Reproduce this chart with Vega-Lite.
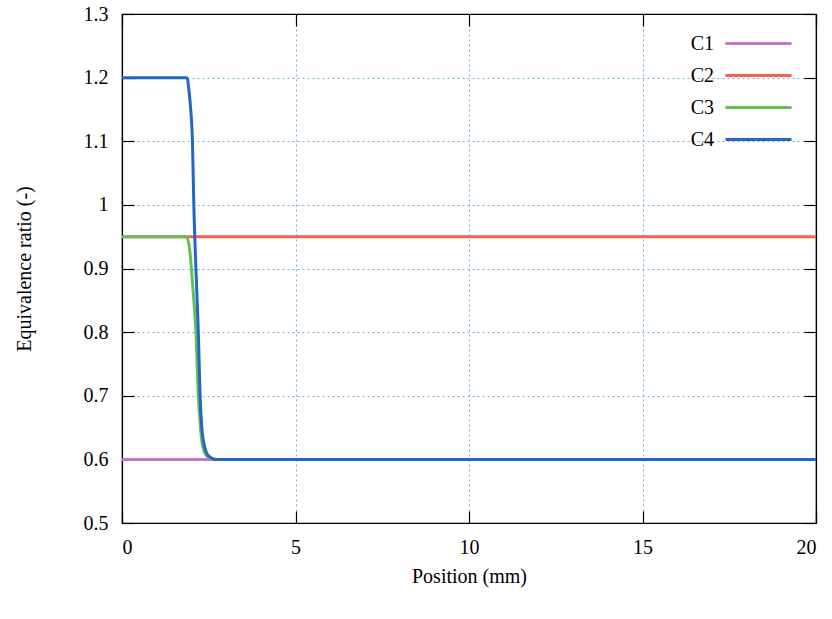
{
  "$schema": "https://vega.github.io/schema/vega-lite/v6.json",
  "width": 694,
  "height": 509,
  "autosize": {"type": "none"},
  "padding": {"left": 122, "top": 14, "right": 16, "bottom": 96},
  "background": "white",
  "config": {
    "font": "Liberation Serif",
    "view": {"stroke": "black", "strokeWidth": 1.2},
    "axis": {"labelFont": "Liberation Serif", "titleFont": "Liberation Serif", "labelFontSize": 20, "titleFontSize": 20, "titleFontWeight": "normal", "labelColor": "black", "titleColor": "black", "gridColor": "#6fb3dc", "gridDash": [2, 3], "gridWidth": 1}
  },
  "resolve": {"axis": {"x": "independent", "y": "independent"}},
  "data": {"values": [
    {"series": "C1", "x": 0, "y": 0.6},
    {"series": "C1", "x": 20, "y": 0.6},
    {"series": "C2", "x": 0, "y": 0.95},
    {"series": "C2", "x": 20, "y": 0.95},
    {"series": "C3", "x": 0, "y": 0.95},
    {"series": "C3", "x": 1.86, "y": 0.95},
    {"series": "C3", "x": 1.92, "y": 0.94},
    {"series": "C3", "x": 1.97, "y": 0.92},
    {"series": "C3", "x": 2.0, "y": 0.9},
    {"series": "C3", "x": 2.07, "y": 0.85},
    {"series": "C3", "x": 2.13, "y": 0.8},
    {"series": "C3", "x": 2.2, "y": 0.7},
    {"series": "C3", "x": 2.26, "y": 0.65},
    {"series": "C3", "x": 2.33, "y": 0.62},
    {"series": "C3", "x": 2.45, "y": 0.605},
    {"series": "C3", "x": 2.65, "y": 0.6},
    {"series": "C3", "x": 20, "y": 0.6},
    {"series": "C4", "x": 0, "y": 1.2},
    {"series": "C4", "x": 1.87, "y": 1.2},
    {"series": "C4", "x": 1.93, "y": 1.18},
    {"series": "C4", "x": 1.98, "y": 1.15},
    {"series": "C4", "x": 2.03, "y": 1.1},
    {"series": "C4", "x": 2.07, "y": 1.0},
    {"series": "C4", "x": 2.13, "y": 0.9},
    {"series": "C4", "x": 2.2, "y": 0.8},
    {"series": "C4", "x": 2.25, "y": 0.7},
    {"series": "C4", "x": 2.3, "y": 0.65},
    {"series": "C4", "x": 2.38, "y": 0.62},
    {"series": "C4", "x": 2.5, "y": 0.605},
    {"series": "C4", "x": 2.7, "y": 0.6},
    {"series": "C4", "x": 20, "y": 0.6}
  ]},
  "layer": [
    {
      "mark": {"type": "line", "strokeWidth": 3, "interpolate": "monotone"},
      "encoding": {
        "x": {"field": "x", "type": "quantitative", "scale": {"domain": [0, 20], "nice": false, "zero": false},
          "axis": {"orient": "bottom", "values": [0, 5, 10, 15, 20], "title": "Position (mm)", "tickSize": -12, "tickColor": "black", "tickWidth": 1.2, "domainColor": "black", "domainWidth": 1.2, "labelPadding": 26, "titlePadding": 9}},
        "y": {"field": "y", "type": "quantitative", "scale": {"domain": [0.5, 1.3], "nice": false, "zero": false},
          "axis": {"orient": "left", "values": [0.5, 0.6, 0.7, 0.8, 0.9, 1.0, 1.1, 1.2, 1.3], "format": ".1~f", "title": "Equivalence ratio (-)", "tickSize": -12, "tickColor": "black", "tickWidth": 1.2, "domainColor": "black", "domainWidth": 1.2, "labelPadding": 26, "titlePadding": 49}},
        "color": {"field": "series", "type": "nominal",
          "scale": {"domain": ["C1", "C2", "C3", "C4"], "range": ["#c276c6", "#f2624f", "#62c152", "#2566c2"]},
          "legend": {"title": null, "orient": "none", "legendX": 624, "legendY": 17, "symbolType": "M-3,0H3", "symbolSize": 484, "symbolStrokeWidth": 3, "symbolFillColor": "transparent", "labelFontSize": 20, "labelFont": "Liberation Serif", "labelColor": "black", "labelAlign": "right", "labelOffset": -57, "rowPadding": 9, "padding": 0}
        }
      }
    },
    {
      "mark": {"type": "point", "opacity": 0},
      "encoding": {
        "x": {"field": "x", "type": "quantitative",
          "axis": {"orient": "top", "values": [0, 5, 10, 15, 20], "title": null, "labels": false, "gridOpacity": 0, "tickSize": -12, "tickColor": "black", "tickWidth": 1.2, "domainColor": "black", "domainWidth": 1.2}},
        "y": {"field": "y", "type": "quantitative",
          "axis": {"orient": "right", "values": [0.5, 0.6, 0.7, 0.8, 0.9, 1.0, 1.1, 1.2, 1.3], "title": null, "labels": false, "gridOpacity": 0, "tickSize": -12, "tickColor": "black", "tickWidth": 1.2, "domainColor": "black", "domainWidth": 1.2}}
      }
    }
  ]
}
